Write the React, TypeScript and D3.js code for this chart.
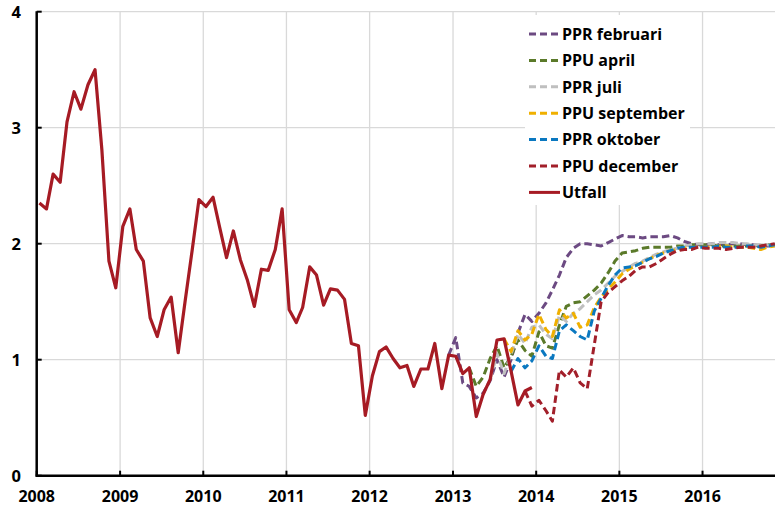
import React, { useEffect, useRef } from "react";
import * as d3 from "d3";

// monthly outcome, Jan 2008 - Dec 2013
const utfall = [
  2.35, 2.3, 2.6, 2.53, 3.05, 3.31, 3.16, 3.37, 3.5, 2.81, 1.85, 1.62,
  2.15, 2.3, 1.95, 1.85, 1.36, 1.2, 1.43, 1.54, 1.06, 1.5, 1.94, 2.38,
  2.32, 2.4, 2.15, 1.88, 2.11, 1.86, 1.69, 1.46, 1.78, 1.77, 1.95, 2.3,
  1.43, 1.32, 1.45, 1.8, 1.73, 1.47, 1.61, 1.6, 1.52, 1.14, 1.12, 0.52,
  0.86, 1.07, 1.11, 1.01, 0.93, 0.95, 0.77, 0.92, 0.92, 1.14, 0.75, 1.04,
  1.03, 0.88, 0.93, 0.51, 0.7, 0.83, 1.17, 1.18, 0.9, 0.61, 0.73, 0.76,
];

// forecasts: first month [year, month0] and monthly values
const pprFebStart = [2012, 11];
const pprFeb = [
  1.04, 1.19, 0.8, 0.77, 0.67, 0.71, 0.82, 1.0, 0.85, 1.0, 1.23, 1.39, 1.33,
  1.4, 1.49, 1.6, 1.73, 1.88, 1.96, 2.0, 2.0, 1.99, 1.98, 2.01, 2.04,
  2.07, 2.06, 2.06, 2.05, 2.06, 2.06, 2.06, 2.07, 2.05, 2.02, 2.0, 1.99,
  1.99, 2.0, 1.99, 1.99, 2.0, 2.0, 1.99, 1.99, 1.98, 1.98, 1.98,
];

const ppuAprStart = [2013, 2];
const ppuApr = [
  0.93, 0.77, 0.85, 1.01, 1.12, 0.93, 1.03, 1.17, 1.08, 1.03,
  1.24, 1.12, 1.1, 1.3, 1.46, 1.49, 1.5, 1.55, 1.6, 1.66, 1.75, 1.85,
  1.92, 1.93, 1.94, 1.96, 1.97, 1.97, 1.97, 1.97, 1.98, 1.98, 1.99, 1.99,
  1.99, 1.99, 1.98, 1.98, 1.98, 1.98, 1.98, 1.98, 1.98, 1.99, 1.99,
];

const pprJulStart = [2013, 5];
const pprJul = [
  0.83, 1.05, 0.88, 1.05, 1.22, 1.14, 1.28,
  1.3, 1.22, 1.18, 1.38, 1.33, 1.4, 1.44, 1.5, 1.56, 1.6, 1.66, 1.72,
  1.76, 1.8, 1.83, 1.85, 1.88, 1.91, 1.93, 1.95, 1.96, 1.98, 1.99, 2.0,
  2.0, 2.0, 2.01, 2.01, 2.01, 2.0, 2.0, 1.99, 1.99, 1.99, 1.98,
];

const ppuSepStart = [2013, 7];
const ppuSep = [
  1.18, 1.07, 1.25, 1.17, 1.22,
  1.39, 1.26, 1.2, 1.43, 1.36, 1.4, 1.28, 1.3, 1.45, 1.54, 1.61, 1.67,
  1.74, 1.78, 1.81, 1.84, 1.87, 1.9, 1.92, 1.94, 1.95, 1.96, 1.97, 1.97,
  1.97, 1.97, 1.98, 1.98, 1.97, 1.97, 1.97, 1.96, 1.95, 1.97, 1.98,
];

const pprOktStart = [2013, 8];
const pprOkt = [
  0.9, 1.01, 0.93, 0.99,
  1.12, 1.03, 1.01, 1.25, 1.3, 1.25, 1.2, 1.17, 1.42, 1.53, 1.64, 1.73,
  1.79, 1.8, 1.81, 1.84, 1.87, 1.89, 1.92, 1.94, 1.96, 1.97, 1.97, 1.97,
  1.97, 1.97, 1.98, 1.97, 1.97, 1.97, 1.98, 1.98, 1.97, 1.98, 1.99,
];

const ppuDecStart = [2013, 10];
const ppuDec = [
  0.73, 0.6,
  0.65, 0.56, 0.47, 0.91, 0.85, 0.93, 0.8, 0.75, 1.13, 1.5, 1.58, 1.63,
  1.68, 1.72, 1.77, 1.8, 1.8, 1.83, 1.87, 1.91, 1.94, 1.95, 1.95, 1.97,
  1.96, 1.96, 1.96, 1.95, 1.96, 1.97, 1.97, 1.97, 1.98, 1.99, 2.0,
];

const yearTicks = [2008, 2009, 2010, 2011, 2012, 2013, 2014, 2015, 2016];
const yTicks = [0, 1, 2, 3, 4];

const series = [
  { name: "PPR februari", start: pprFebStart, values: pprFeb, color: "#6c4a82", dashed: true },
  { name: "PPU april", start: ppuAprStart, values: ppuApr, color: "#5b7a2a", dashed: true },
  { name: "PPR juli", start: pprJulStart, values: pprJul, color: "#bfbfbf", dashed: true },
  { name: "PPU september", start: ppuSepStart, values: ppuSep, color: "#f0b000", dashed: true },
  { name: "PPR oktober", start: pprOktStart, values: pprOkt, color: "#0a78c0", dashed: true },
  { name: "PPU december", start: ppuDecStart, values: ppuDec, color: "#a21f2a", dashed: true },
  { name: "Utfall", start: [2008, 0], values: utfall, color: "#a61b24", dashed: false },
];

const App = () => {
  const ref = useRef<SVGSVGElement>(null);
  const width = 775;
  const height = 506;

  useEffect(() => {
    const svg = d3.select(ref.current);
    svg.selectAll("*").remove();

    const left = 36.7;
    const right = 775;
    const top = 11.7;
    const bottom = 475.7;
    const font = "'Open Sans', 'DejaVu Sans', sans-serif";

    const x = d3
      .scaleTime()
      .domain([new Date(2008, 0, 1), new Date(2016, 10, 14)])
      .range([left, right]);

    const y = d3.scaleLinear().domain([0, 4]).range([bottom, top]);

    // grid
    svg
      .append("g")
      .selectAll("line")
      .data(yTicks.filter((d) => d > 0))
      .join("line")
      .attr("x1", left)
      .attr("x2", right)
      .attr("y1", (d) => y(d))
      .attr("y2", (d) => y(d))
      .attr("stroke", "#d9d9d9")
      .attr("stroke-width", 1.3);

    svg
      .append("g")
      .selectAll("line")
      .data(yearTicks.slice(1))
      .join("line")
      .attr("x1", (d) => x(new Date(d, 0, 1)))
      .attr("x2", (d) => x(new Date(d, 0, 1)))
      .attr("y1", top)
      .attr("y2", bottom)
      .attr("stroke", "#d9d9d9")
      .attr("stroke-width", 1.3);

    // legend box hides grid behind it
    svg
      .append("rect")
      .attr("x", 525)
      .attr("y", 15)
      .attr("width", 165)
      .attr("height", 190)
      .attr("fill", "#fff");

    const line = d3
      .line<{ date: Date; value: number }>()
      .x((d) => x(d.date))
      .y((d) => y(d.value));

    const toPoints = (start: number[], values: number[]) =>
      values.map((v, i) => ({ date: new Date(start[0], start[1] + i, 13), value: v }));

    svg
      .append("defs")
      .append("clipPath")
      .attr("id", "plot-clip")
      .append("rect")
      .attr("x", left)
      .attr("y", 0)
      .attr("width", right - left)
      .attr("height", bottom);

    const lines = svg.append("g").attr("clip-path", "url(#plot-clip)");

    series.forEach((s) => {
      lines
        .append("path")
        .datum(toPoints(s.start, s.values))
        .attr("fill", "none")
        .attr("stroke", s.color)
        .attr("stroke-width", s.dashed ? 3 : 3.2)
        .attr("stroke-dasharray", s.dashed ? "7.5,4" : null)
        .attr("stroke-linejoin", "round")
        .attr("d", line);
    });

    // axes
    svg
      .append("line")
      .attr("x1", left)
      .attr("x2", left)
      .attr("y1", top - 0.5)
      .attr("y2", bottom + 1)
      .attr("stroke", "#000")
      .attr("stroke-width", 2.5);

    svg
      .append("line")
      .attr("x1", left - 1)
      .attr("x2", right)
      .attr("y1", bottom)
      .attr("y2", bottom)
      .attr("stroke", "#000")
      .attr("stroke-width", 2.5);

    svg
      .append("g")
      .selectAll("line")
      .data(yTicks)
      .join("line")
      .attr("x1", left)
      .attr("x2", left + 5)
      .attr("y1", (d) => y(d))
      .attr("y2", (d) => y(d))
      .attr("stroke", "#000")
      .attr("stroke-width", 2);

    svg
      .append("g")
      .selectAll("line")
      .data(yearTicks)
      .join("line")
      .attr("x1", (d) => x(new Date(d, 0, 1)))
      .attr("x2", (d) => x(new Date(d, 0, 1)))
      .attr("y1", bottom - 5)
      .attr("y2", bottom)
      .attr("stroke", "#000")
      .attr("stroke-width", 2);

    svg
      .append("g")
      .selectAll("text")
      .data(yTicks)
      .join("text")
      .attr("x", 21)
      .attr("y", (d) => y(d))
      .attr("dy", "0.36em")
      .attr("text-anchor", "end")
      .attr("font-family", font)
      .attr("font-weight", 700)
      .attr("font-size", 16.5)
      .text((d) => d);

    svg
      .append("g")
      .selectAll("text")
      .data(yearTicks)
      .join("text")
      .attr("x", (d) => x(new Date(d, 0, 1)))
      .attr("y", 501.5)
      .attr("text-anchor", "middle")
      .attr("font-family", font)
      .attr("font-weight", 700)
      .attr("font-size", 16)
      .text((d) => d);

    // legend
    const legend = svg
      .append("g")
      .selectAll("g")
      .data(series)
      .join("g")
      .attr("transform", (d, i) => `translate(529,${34 + i * 26.4})`);

    legend
      .append("line")
      .attr("x1", 0)
      .attr("x2", 31)
      .attr("stroke", (d) => d.color)
      .attr("stroke-width", 3)
      .attr("stroke-dasharray", (d) => (d.dashed ? "7,4" : null));

    legend
      .append("text")
      .attr("x", 33)
      .attr("dy", "0.36em")
      .attr("font-family", font)
      .attr("font-weight", 700)
      .attr("font-size", 16)
      .text((d) => d.name);
  }, []);

  return (
    <svg
      ref={ref}
      width={width}
      height={height}
      style={{ position: "absolute", left: 0, top: 0, background: "#fff" }}
    />
  );
};

export default App;
